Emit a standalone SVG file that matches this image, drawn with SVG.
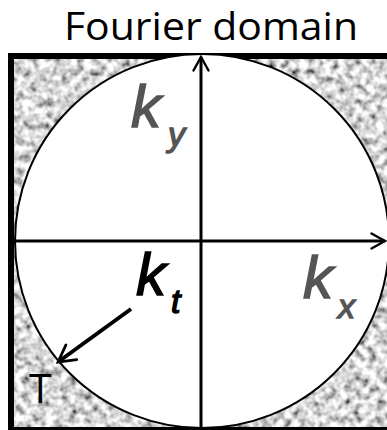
<svg xmlns="http://www.w3.org/2000/svg" width="387" height="430" viewBox="0 0 387 430">
  <defs>
    <filter id="noise" x="0" y="0" width="100%" height="100%" filterUnits="objectBoundingBox">
      <feTurbulence type="fractalNoise" baseFrequency="0.13" numOctaves="2" seed="7" result="t"/>
      <feColorMatrix type="matrix" in="t" values="1 0 0 0 0  1 0 0 0 0  1 0 0 0 0  0 0 0 0 1" result="g"/>
      <feComponentTransfer in="g">
        <feFuncR type="linear" slope="1.8" intercept="-0.22"/>
        <feFuncG type="linear" slope="1.8" intercept="-0.22"/>
        <feFuncB type="linear" slope="1.8" intercept="-0.22"/>
      </feComponentTransfer>
    </filter>
    <marker id="ah" viewBox="0 0 12 12" refX="10" refY="6" markerWidth="6" markerHeight="6" markerUnits="strokeWidth" orient="auto">
      <path d="M1,1 L10,6 L1,11" fill="none" stroke="#000" stroke-width="1.6" stroke-linecap="round" stroke-linejoin="miter"/>
    </marker>
    <marker id="ah2" viewBox="0 0 12 12" refX="10" refY="6" markerWidth="5.5" markerHeight="5.5" markerUnits="strokeWidth" orient="auto">
      <path d="M1,1 L10,6 L1,11" fill="none" stroke="#000" stroke-width="1.5" stroke-linecap="round"/>
    </marker>
    <style>
      .title{font-family:"Open Sans","Liberation Sans",sans-serif;font-size:38px;fill:#000}
      .kg{font-family:"Liberation Sans",Arial,sans-serif;font-style:italic;fill:#555;stroke:#555;stroke-width:1.4}
      .kb{font-family:"Liberation Sans",Arial,sans-serif;font-style:italic;fill:#000;stroke:#000;stroke-width:1.4}
      .axis{stroke:#000;stroke-width:3;fill:none}
    </style>
  </defs>
  <rect width="387" height="430" fill="#fff"/>
  <text class="title" x="211" y="40" text-anchor="middle" textLength="294" lengthAdjust="spacingAndGlyphs">Fourier domain</text>
  <g id="domain">
    <rect x="14" y="59" width="373" height="368" fill="#aaa" filter="url(#noise)"/>
    <rect x="8" y="53" width="6" height="377" fill="#000"/>
    <rect x="8" y="53" width="379" height="6" fill="#000"/>
    <rect x="8" y="427" width="379" height="3" fill="#000"/>
    <circle cx="202" cy="241" r="187" fill="#fff" stroke="#000" stroke-width="2"/>
  </g>
  <g id="connectors">
    <line class="axis" x1="201" y1="428" x2="201" y2="57" marker-end="url(#ah)"/>
    <line class="axis" x1="14" y1="241" x2="385" y2="241" marker-end="url(#ah)"/>
    <line x1="131" y1="309" x2="58" y2="362" stroke="#000" stroke-width="4" marker-end="url(#ah2)"/>
  </g>
  <g id="ky">
    <text class="kg" x="131" y="127" font-size="60">k</text>
    <text class="kg" x="168" y="146" font-size="34" stroke-width="0.6">y</text>
  </g>
  <g id="kt">
    <text class="kb" x="136" y="295" font-size="60">k</text>
    <text class="kb" x="171" y="313" font-size="34" stroke-width="0.6">t</text>
  </g>
  <g id="kx">
    <text class="kg" x="303" y="298" font-size="60">k</text>
    <text class="kg" x="338" y="318" font-size="34" stroke-width="0.6">x</text>
  </g>
  <g id="T">
    <text x="29" y="403" font-family="Open Sans, Liberation Sans, sans-serif" font-size="41" fill="#000">T</text>
  </g>
</svg>
